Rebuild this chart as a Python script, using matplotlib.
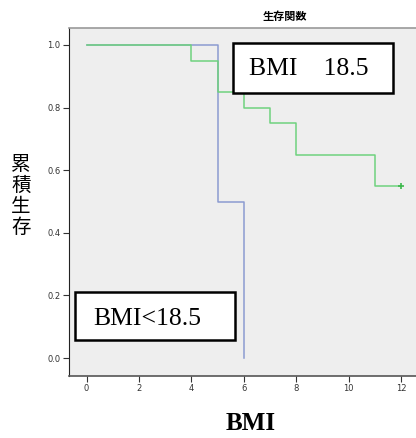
import matplotlib
matplotlib.use("Agg")
import matplotlib.pyplot as plt
from matplotlib.patches import Rectangle

# Kaplan-Meier steps
t_high = [0, 4, 5, 6, 7, 8, 11, 12]
s_high = [1.0, 0.95, 0.85, 0.80, 0.75, 0.65, 0.55, 0.55]
t_low = [0, 5, 6]
s_low = [1.0, 0.5, 0.0]
censor_t = [12]
censor_s = [0.55]

xticks = [0, 2, 4, 6, 8, 10, 12]
yticks = [0.0, 0.2, 0.4, 0.6, 0.8, 1.0]

cjk = ['Noto Sans CJK JP', 'DejaVu Sans']
W, H = 416, 438

fig = plt.figure(figsize=(4.16, 4.38), dpi=100)
ax = fig.add_axes([69/W, 62/H, 1 - 69/W, 348/H])
ax.set_facecolor('#eeeeee')

ax.step(t_low, s_low, where='post', color='#8b9bd0', lw=1.1)
ax.step(t_high, s_high, where='post', color='#6fd27e', lw=1.1)
ax.plot(censor_t, censor_s, '+', color='#3cb84c', ms=5, mew=1.2)

ax.set_xlim(-0.67, 12.57)
ax.set_ylim(-0.057, 1.054)
ax.set_xticks(xticks)
ax.set_xticklabels([str(v) for v in xticks])
ax.set_yticks(yticks)
ax.set_yticklabels(['%.1f' % v for v in yticks])
ax.tick_params(labelsize=6, length=4, width=0.8, colors='#333333', pad=2)

ax.spines['right'].set_visible(False)
ax.spines['top'].set_color('#999999')
ax.spines['top'].set_linewidth(1.2)
ax.spines['left'].set_color('#222222')
ax.spines['bottom'].set_color('#555555')
ax.spines['bottom'].set_linewidth(1.2)


def box(x0, y0, x1, y1):
    fig.patches.append(Rectangle((x0 / W, 1 - y1 / H), (x1 - x0) / W, (y1 - y0) / H,
                                 transform=fig.transFigure, fc='white', ec='black',
                                 lw=1.8, zorder=3))


# group labels in boxes
box(233, 43, 393, 93)
fig.text(309 / W, 1 - 69 / H, 'BMI    18.5', family='Liberation Serif',
         fontsize=18.5, ha='center', va='center', zorder=4)
box(75, 292, 235, 340)
fig.text(147 / W, 1 - 319 / H, 'BMI<18.5', family='Liberation Serif',
         fontsize=18.5, ha='center', va='center', zorder=4)

fig.text(285 / W, 1 - 16 / H, '生存関数', family=cjk, fontsize=8,
         fontweight='bold', ha='center', va='center')
fig.text(21 / W, 1 - 196 / H, '累\n積\n生\n存', family=cjk, fontsize=14,
         ha='center', va='center', linespacing=1.0)
fig.text(251 / W, 1 - 423 / H, 'BMI', family='Liberation Serif', fontsize=18,
         fontweight='bold', ha='center', va='center')

fig.savefig('out.png', dpi=100)
